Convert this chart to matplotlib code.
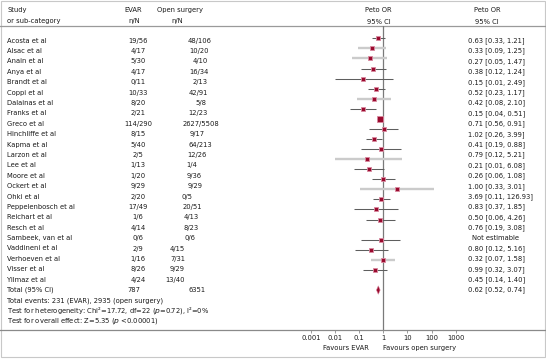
import matplotlib
matplotlib.use("Agg")
import matplotlib.pyplot as plt
from matplotlib import font_manager as fm
from matplotlib.patches import Polygon, Rectangle
import numpy as np

# ---------------- data ----------------
studies = ["Acosta et al", "Alsac et al", "Anain et al", "Anya et al", "Brandt et al",
           "Coppi et al", "Dalainas et al", "Franks et al", "Greco et al", "Hinchliffe et al",
           "Kapma et al", "Larzon et al", "Lee et al", "Moore et al", "Ockert et al",
           "Ohki et al", "Peppelenbosch et al", "Reichart et al", "Resch et al",
           "Sambeek, van et al", "Vaddineni et al", "Verhoeven et al", "Visser et al",
           "Yilmaz et al"]
evar_events = [19, 4, 5, 4, 0, 10, 8, 2, 114, 8, 5, 2, 1, 1, 9, 2, 17, 1, 4, 0, 2, 1, 8, 4]
evar_total = [56, 17, 30, 17, 11, 33, 20, 21, 290, 15, 40, 5, 13, 20, 29, 20, 49, 6, 14, 6, 9, 16, 26, 24]
open_events = [48, 10, 4, 16, 2, 42, 5, 12, 2627, 9, 64, 12, 1, 9, 9, 0, 20, 4, 8, 0, 4, 7, 9, 13]
open_total = [106, 20, 10, 34, 13, 91, 8, 23, 5508, 17, 213, 26, 4, 36, 29, 5, 51, 13, 23, 6, 15, 31, 29, 40]
peto_or = [0.63, 0.33, 0.27, 0.38, 0.15, 0.52, 0.42, 0.15, 0.71, 1.02, 0.41, 0.79, 0.21, 0.26,
           1.00, 3.69, 0.83, 0.50, 0.76, None, 0.80, 0.32, 0.99, 0.45]
ci_low = [0.33, 0.09, 0.05, 0.12, 0.01, 0.23, 0.08, 0.04, 0.56, 0.26, 0.19, 0.12, 0.01, 0.06,
          0.33, 0.11, 0.37, 0.06, 0.19, None, 0.12, 0.07, 0.32, 0.14]
ci_high = [1.21, 1.25, 1.47, 1.24, 2.49, 1.17, 2.10, 0.51, 0.91, 3.99, 0.88, 5.21, 6.08, 1.08,
           3.01, 126.93, 1.85, 4.26, 3.08, None, 5.16, 1.58, 3.07, 1.40]
total_evar = 787
total_open = 6351
total_or, total_low, total_high = 0.62, 0.52, 0.74
tick_values = [0.001, 0.01, 0.1, 1, 10, 100, 1000]
tick_labels = ["0.001", "0.01", "0.1", "1", "10", "100", "1000"]

# ---------------- styles / layout ----------------
light_ci = [False, True, True, False, False, False, True, False, False, False, False, False,
            True, False, False, True, False, False, False, False, False, False, True, False]
marker_px = [3.9, 3.6, 3.6, 3.6, 3.4, 3.9, 3.6, 3.6, 6.2, 3.6, 3.9, 3.4, 3.4, 3.6, 3.6, 3.4,
             3.9, 3.4, 3.6, 0, 3.4, 3.6, 3.6, 3.6]
open_x = [199.5, 199, 200.5, 199, 200.5, 198, 201, 198, 201, 197.5, 200, 196.5, 192, 194.5,
          195, 187, 192, 191, 191, 190, 177, 177.5, 177.5, 175.5]

names = {f.name for f in fm.fontManager.ttflist}
STRETCH = "normal"
if "Liberation Sans Narrow" in names:
    FONT, FS = "Liberation Sans Narrow", 6.2
elif any(f.name == "DejaVu Sans" and "condensed" in str(f.stretch) for f in fm.fontManager.ttflist):
    FONT, FS, STRETCH = "DejaVu Sans", 5.4, "condensed"
else:
    FONT, FS = "Liberation Sans", 5.2

plt.rcParams["font.family"] = [FONT, "DejaVu Sans"]
plt.rcParams["mathtext.fontset"] = "custom"
plt.rcParams["mathtext.rm"] = FONT
plt.rcParams["mathtext.it"] = FONT + ":italic"

TXT = "#1a1a1a"
RED = "#9a0a2e"
W, H = 546, 359
fig = plt.figure(figsize=(W / 100, H / 100), dpi=100)
fig.patch.set_facecolor("white")

# text layer in pixel coordinates
at = fig.add_axes([0, 0, 1, 1])
at.set_xlim(0, W)
at.set_ylim(H, 0)
at.axis("off")

def t(x, y, s, ha="left", **kw):
    at.text(x, y, s, ha=ha, va="center", fontsize=FS, color=TXT, family=[FONT, "DejaVu Sans"],
            fontstretch=STRETCH, **kw)

# border and header line
at.add_patch(Rectangle((0.5, 0.5), W - 1.5, 357 - 0.5, fill=False, ec="#c8c8c8", lw=0.8))
at.plot([0, W], [26.3, 26.3], color="#9a9a9a", lw=0.9)

# header
t(7.3, 10, "Study")
t(7.3, 21.5, "or sub-category")
t(133, 10, "EVAR", ha="center")
t(134, 21.5, "n/N", ha="center")
t(180, 10, "Open surgery", ha="center")
t(177, 21.5, "n/N", ha="center")
t(378.5, 10, "Peto OR", ha="center")
t(378.5, 21.5, "95% CI", ha="center")
t(487, 10, "Peto OR", ha="center")
t(487, 21.5, "95% CI", ha="center")

TY0, TDY = 40.7, 10.39
for i, name in enumerate(studies):
    y = TY0 + TDY * i
    t(7.3, y, name)
    t(138, y, f"{evar_events[i]}/{evar_total[i]}", ha="center")
    t(open_x[i], y, f"{open_events[i]}/{open_total[i]}", ha="center")
    if peto_or[i] is None:
        t(496, y, "Not estimable", ha="center")
    else:
        t(468, y, f"{peto_or[i]:.2f} [{ci_low[i]:.2f}, {ci_high[i]:.2f}]")

yt = TY0 + TDY * len(studies)
t(7.3, yt, "Total (95% CI)")
t(134, yt, f"{total_evar}", ha="center")
t(197, yt, f"{total_open}", ha="center")
t(468, yt, f"{total_or:.2f} [{total_low:.2f}, {total_high:.2f}]")

t(7.3, 300.8, f"Total events: {sum(evar_events)} (EVAR), {sum(open_events)} (open surgery)")
t(7.3, 310.8, "Test for heterogeneity: Chi²=17.72, df=22 ($\\mathit{p}$=0.72), I²=0%")
t(7.3, 320.8, "Test for overall effect: Z=5.35 ($\\mathit{p}$ <0.00001)")

t(346, 348.3, "Favours EVAR", ha="center")
t(420, 348.3, "Favours open surgery", ha="center")

# forest layer
X0, XD = 383.3, 24.1          # pixel of OR=1, pixels per decade
MY0, MDY = 38.3, 10.07        # first marker row pixel, pixel per row
top_px, bot_px = 26.3, 330.3
af = fig.add_axes([0, (H - bot_px) / H, 1, (bot_px - top_px) / H])
af.set_xscale("log")
af.set_xlim(10 ** (-X0 / XD), 10 ** ((W - X0) / XD))
af.set_ylim((bot_px - MY0) / MDY, (top_px - MY0) / MDY)
af.patch.set_alpha(0)
for s in ["top", "left", "right"]:
    af.spines[s].set_visible(False)
af.spines["bottom"].set_color("#8a8a8a")
af.spines["bottom"].set_linewidth(0.9)
af.set_yticks([])
af.set_xticks(tick_values)
af.set_xticklabels(tick_labels)
af.xaxis.set_minor_locator(matplotlib.ticker.NullLocator())
af.tick_params(axis="x", direction="out", length=2.5, width=0.6, color="#8a8a8a", pad=1,
               labelsize=FS, labelcolor=TXT)
for lab in af.get_xticklabels():
    lab.set_family([FONT, "DejaVu Sans"])
    lab.set_fontstretch(STRETCH)

af.axvline(1, color="#7a7a7a", lw=0.9, zorder=1)

for i in range(len(studies)):
    if peto_or[i] is None:
        continue
    light = light_ci[i]
    af.plot([ci_low[i], ci_high[i]], [i, i], color="#cbcbcb" if light else "#5e5e5e",
            lw=1.7 if light else 0.75, solid_capstyle="butt", zorder=2)
    side = marker_px[i] * 0.72
    af.scatter([peto_or[i]], [i], s=side ** 2, marker="s", color=RED, ec="#d98aa0",
               lw=0.6, zorder=3)

row_total = len(studies) + 1
dh = 4.2 / MDY
af.add_patch(Polygon([(total_low, row_total), (total_or, row_total - dh),
                      (total_high, row_total), (total_or, row_total + dh)],
                     closed=True, fc=RED, ec="#d98aa0", lw=0.4, zorder=3))

fig.savefig("out.png", dpi=100, facecolor="white")
